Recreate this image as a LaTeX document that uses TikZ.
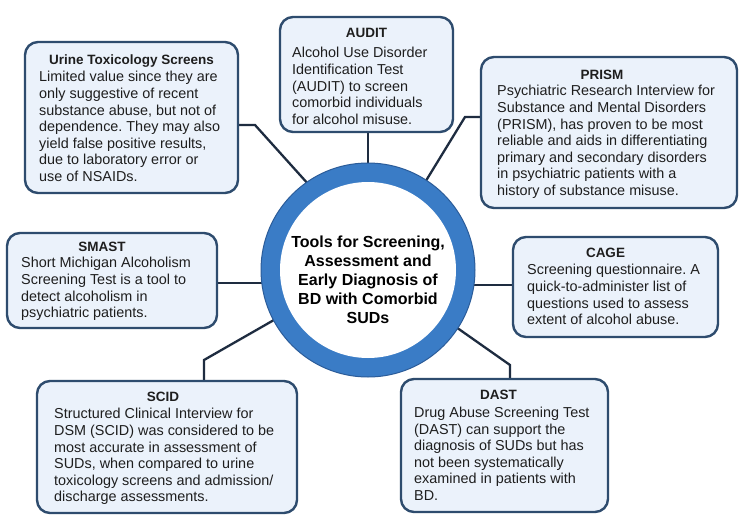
\documentclass[tikz,border=0pt]{standalone}
\usepackage{fontspec}
\setmainfont{Liberation Sans}
\usetikzlibrary{backgrounds}
\definecolor{boxfill}{HTML}{EBF2FB}
\definecolor{boxline}{HTML}{2E4C6E}
\definecolor{wirecol}{HTML}{1E2C40}
\definecolor{ringblue}{HTML}{3A7CC6}
\definecolor{ringdark}{HTML}{2B5C99}
\definecolor{txt}{HTML}{1E1E1E}
\frenchspacing
\begin{document}
\begin{tikzpicture}[x=1pt,y=-1pt,
  box/.style={draw=boxline, line width=2.4pt, fill=boxfill, rounded corners=13pt, inner sep=0pt, outer sep=0pt},
  ttl/.style={font=\fontsize{13.5}{16.6}\selectfont\bfseries, text=txt, inner sep=0pt, anchor=base},
  body/.style={font=\fontsize{14.4}{16.6}\selectfont, text=txt, inner sep=0pt, anchor=north west, align=left},
  wire/.style={draw=wirecol, line width=2.3pt}]
\useasboundingbox (0,0) rectangle (750,525);

% central ring
\node[circle, fill=ringblue, draw=ringdark, line width=1pt, minimum size=214pt, inner sep=0pt, outer sep=0pt] (ring) at (368,270) {};
\node[circle, fill=white, minimum size=176pt, inner sep=0pt] (hole) at (ring.center) {};
\node[font=\fontsize{16}{19}\selectfont\bfseries, text=black, align=center, inner sep=0pt] (maintitle) at (368,280)
  {Tools for Screening,\\Assessment and\\Early Diagnosis of\\BD with Comorbid\\SUDs};

% Urine
\node[box, minimum width=213pt, minimum height=151pt] (urine) at (131.5,117.5) {};
\node[ttl] (urineT) at ([yshift=-22.7pt]urine.north) {Urine Toxicology Screens};
\node[body] (urineB) at ([xshift=14pt,yshift=-29.2pt]urine.north west)
  {Limited value since they are\\only suggestive of recent\\substance abuse, but not of\\dependence. They may also\\yield false positive results,\\due to laboratory error or\\use of NSAIDs.};

% AUDIT
\node[box, minimum width=173pt, minimum height=115pt] (audit) at (366.5,74.5) {};
\node[ttl] (auditT) at ([yshift=-20.7pt]audit.north) {AUDIT};
\node[body] (auditB) at ([xshift=12pt,yshift=-30.2pt]audit.north west)
  {Alcohol Use Disorder\\Identification Test\\(AUDIT) to screen\\comorbid individuals\\for alcohol misuse.};

% PRISM
\node[box, minimum width=256pt, minimum height=151pt] (prism) at (609,132.5) {};
\node[ttl] (prismT) at ([xshift=-7pt,yshift=-22.7pt]prism.north) {PRISM};
\node[body] (prismB) at ([xshift=16pt,yshift=-28.2pt]prism.north west)
  {Psychiatric Research Interview for\\Substance and Mental Disorders\\(PRISM), has proven to be most\\reliable and aids in differentiating\\primary and secondary disorders\\in psychiatric patients with a\\history of substance misuse.};

% CAGE
\node[box, minimum width=205pt, minimum height=100pt] (cage) at (615.5,287) {};
\node[ttl] (cageT) at ([xshift=-10pt,yshift=-20.7pt]cage.north) {CAGE};
\node[body] (cageB) at ([xshift=14pt,yshift=-27.2pt]cage.north west)
  {Screening questionnaire. A\\quick-to-administer list of\\questions used to assess\\extent of alcohol abuse.};

% SMAST
\node[box, minimum width=210pt, minimum height=95pt] (smast) at (112,280.5) {};
\node[ttl] (smastT) at ([xshift=-10pt,yshift=-18.7pt]smast.north) {SMAST};
\node[body] (smastB) at ([xshift=14pt,yshift=-24.2pt]smast.north west)
  {Short Michigan Alcoholism\\Screening Test is a tool to\\detect alcoholism in\\psychiatric patients.};

% SCID
\node[box, minimum width=260pt, minimum height=132pt] (scid) at (167,447) {};
\node[ttl] (scidT) at ([xshift=-4pt,yshift=-20.4pt]scid.north) {SCID};
\node[body] (scidB) at ([xshift=17pt,yshift=-27.2pt]scid.north west)
  {Structured Clinical Interview for\\DSM (SCID) was considered to be\\most accurate in assessment of\\SUDs, when compared to urine\\toxicology screens and admission/\\discharge assessments.};

% DAST
\node[box, minimum width=207pt, minimum height=133pt] (dast) at (504.5,445.5) {};
\node[ttl] (dastT) at ([xshift=-6pt,yshift=-20.7pt]dast.north) {DAST};
\node[body] (dastB) at ([xshift=13pt,yshift=-27.9pt]dast.north west)
  {Drug Abuse Screening Test\\(DAST) can support the\\diagnosis of SUDs but has\\not been systematically\\examined in patients with\\BD.};

% connectors
\begin{scope}[on background layer]
\fill[white] (0,0) rectangle (750,525);
\draw[wire] ([yshift=-7.5pt]urine.east) -- ++(17,0) -- (ring.125);
\draw[wire] (ring.north |- audit.south) -- (ring.north);
\draw[wire] ([yshift=15.5pt]prism.west) -- ++(-16,0) -- (ring.57);
\draw[wire] (ring.-8) -- (ring.-8 -| cage.west);
\draw[wire] (ring.187 -| smast.east) -- (ring.187);
\draw[wire] ([xshift=37pt]scid.north) -- ++(0,-21) -- (ring.208);
\draw[wire] ([xshift=5.5pt]dast.north) -- ++(0,-14) -- (ring.-33);
\end{scope}
\end{tikzpicture}
\end{document}
